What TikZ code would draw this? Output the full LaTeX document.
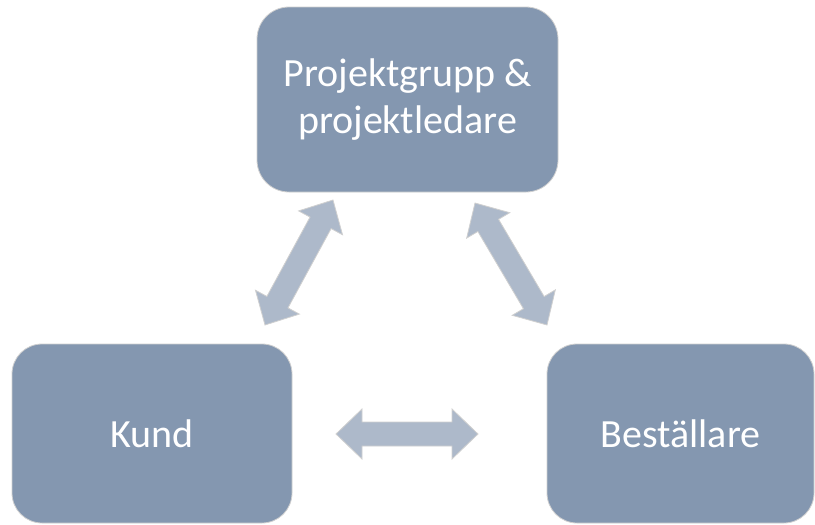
\documentclass[tikz,border=0pt]{standalone}
\usepackage{fontspec}
\setmainfont{Carlito}
\usetikzlibrary{calc}
\definecolor{boxfill}{HTML}{8497B0}
\definecolor{arrowfill}{HTML}{ADB9CA}
\definecolor{edgegray}{HTML}{D0D0D0}
\tikzset{
  rolebox/.style={rectangle, rounded corners=32pt, fill=boxfill, draw=edgegray, line width=0.8pt,
    text=white, align=center, font=\fontsize{40}{47}\selectfont, inner sep=0pt},
  blockarrow/.style={fill=arrowfill, draw=edgegray, line width=0.8pt, line join=miter}
}
\newcommand{\dblarrow}[3]{%
  \coordinate (#1a) at (#2);
  \coordinate (#1b) at (#3);
  \coordinate (#1ha) at ($(#1a)!26pt!(#1b)$);
  \coordinate (#1hb) at ($(#1b)!26pt!(#1a)$);
  \draw[blockarrow] (#1a) -- ($(#1ha)!25pt!90:(#1b)$) -- ($(#1ha)!12pt!90:(#1b)$)
    -- ($(#1hb)!12pt!-90:(#1a)$) -- ($(#1hb)!25pt!-90:(#1a)$) -- (#1b)
    -- ($(#1hb)!25pt!90:(#1a)$) -- ($(#1hb)!12pt!90:(#1a)$)
    -- ($(#1ha)!12pt!-90:(#1b)$) -- ($(#1ha)!25pt!-90:(#1b)$) -- cycle;}
\begin{document}
\begin{tikzpicture}[x=1pt,y=-1pt]
\useasboundingbox (0,0) rectangle (815,525);
\node[rolebox, minimum width=301pt, minimum height=185pt] (pg) at (407.5,99.5) {Projektgrupp \&\\projektledare};
\node[rolebox, minimum width=280pt, minimum height=179pt, rounded corners=30pt] (kund) at (152,433.5) {Kund};
\node[rolebox, minimum width=267pt, minimum height=179pt, rounded corners=30pt] (best) at (680.5,433.5) {Beställare};
\coordinate (l1) at (333,200);
\coordinate (l2) at (265,325);
\coordinate (r1) at (475,203);
\coordinate (r2) at (547,325);
\coordinate (h1) at (336,434);
\coordinate (h2) at (478,434);
\dblarrow{la}{l1}{l2}
\dblarrow{ra}{r1}{r2}
\dblarrow{ha}{h1}{h2}
\end{tikzpicture}
\end{document}
